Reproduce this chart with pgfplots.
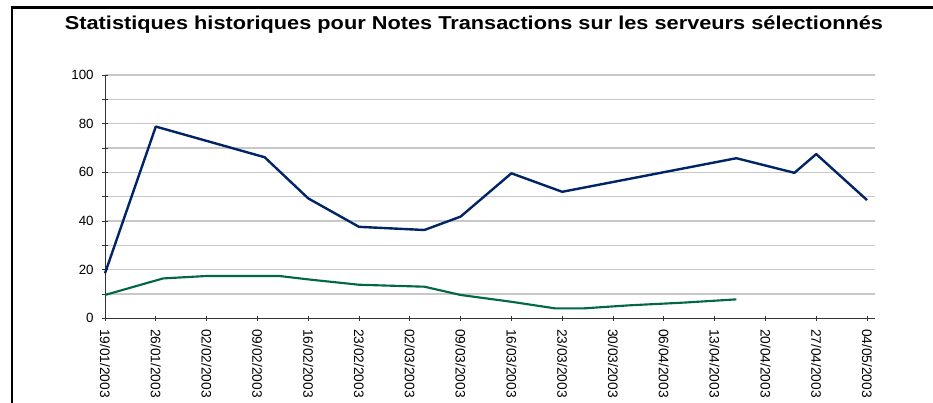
\documentclass[border=0pt]{standalone}
\usepackage{pgfplots}
\pgfplotsset{compat=1.18}
\usepackage{graphicx}
\usepackage{fontspec}
\setmainfont{Liberation Sans}
\definecolor{navyline}{RGB}{0,36,102}
\definecolor{greenline}{RGB}{0,104,66}
\definecolor{gridgray}{RGB}{200,200,200}
\begin{document}
\begin{tikzpicture}
\useasboundingbox (0,0) rectangle (699.75pt,302.25pt);
% frame (left and top edges)
\draw[line width=1.8pt] (9pt,0pt) -- (9pt,296.6pt) -- (699.75pt,296.6pt);
\node[font=\bfseries\fontsize{14pt}{16pt}\selectfont, anchor=base, inner sep=0pt] at (355.5pt,280pt)
  {\scalebox{1.165}[1]{Statistiques historiques pour Notes Transactions sur les serveurs sélectionnés}};
\begin{axis}[
  at={(78.75pt,63.5pt)}, anchor=south west,
  scale only axis,
  width=577.5pt, height=182.5pt,
  xmin=0, xmax=106.1, ymin=0, ymax=100,
  axis x line*=bottom, axis y line*=left,
  axis line style={black!80, line width=0.6pt},
  xtick={0,7,...,105},
  xticklabels={19/01/2003,26/01/2003,02/02/2003,09/02/2003,16/02/2003,23/02/2003,02/03/2003,09/03/2003,16/03/2003,23/03/2003,30/03/2003,06/04/2003,13/04/2003,20/04/2003,27/04/2003,04/05/2003},
  xticklabel style={rotate=-90, anchor=west, font=\fontsize{10.3pt}{12pt}\selectfont},
  xticklabel shift={2.5pt},
  ytick={0,20,...,100},
  minor ytick={10,30,...,90},
  yticklabel style={font=\fontsize{10pt}{12pt}\selectfont},
  yticklabel shift={3pt},
  /pgf/number format/assume math mode=true,
  tick align=center,
  major tick length=4pt, minor tick length=4pt,
  tick style={black!80, line width=0.6pt},
  ymajorgrids, yminorgrids,
  major grid style={gridgray, line width=0.9pt},
  minor grid style={gridgray, line width=0.9pt},
  clip=false,
]
\addplot[navyline, line width=1.8pt, line join=round] coordinates {
  (0,18.5) (7,78.8) (22,66.2) (28,49.3) (35,37.6) (44,36.3) (49,41.8)
  (56,59.6) (63,52.0) (87,65.8) (95,59.8) (98,67.5) (105,48.6)
};
\addplot[greenline, line width=1.6pt, line join=round] coordinates {
  (0,9.6) (8,16.4) (14,17.4) (24,17.4) (28,16.0) (35,13.8) (44,13.0)
  (49,9.6) (56,6.8) (62,4.1) (66,4.1) (72,5.3) (80,6.5) (87,7.8)
};
\end{axis}
\end{tikzpicture}
\end{document}
